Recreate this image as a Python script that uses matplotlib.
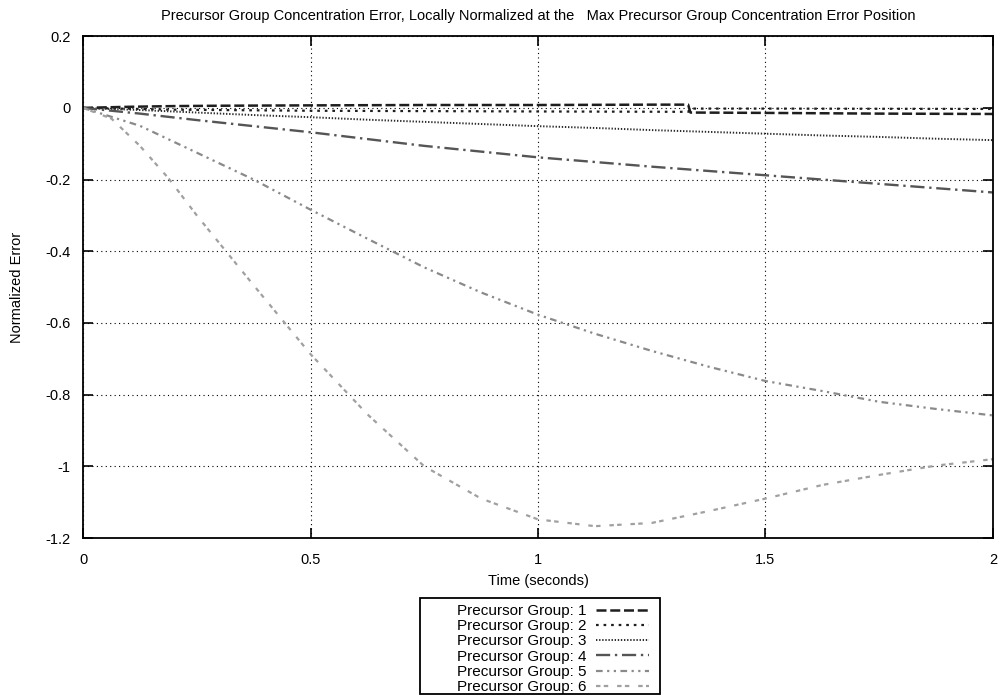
import matplotlib
matplotlib.use("Agg")
import matplotlib.pyplot as plt
from matplotlib.patches import Rectangle

plt.rcParams["font.family"] = ["Liberation Sans", "DejaVu Sans"]

# Time samples (seconds)
t = [0, 0.125, 0.25, 0.375, 0.5, 0.625, 0.75, 0.875, 1.0,
     1.125, 1.25, 1.375, 1.5, 1.625, 1.75, 1.875, 2.0]

# Groups 1 and 2 have a step near t = 1.33 s
t_g1 = [0, 0.1, 0.2, 0.3, 0.5, 0.75, 1.0, 1.25, 1.33, 1.335, 1.5, 1.75, 2.0]
err_g1 = [0, 0.003, 0.005, 0.006, 0.007, 0.008, 0.008, 0.009, 0.009,
          -0.013, -0.014, -0.016, -0.017]
t_g2 = [0, 0.2, 0.5, 1.0, 1.33, 1.335, 1.5, 2.0]
err_g2 = [0, -0.005, -0.008, -0.010, -0.011, -0.002, -0.002, -0.003]

err_g3 = [0, -0.006, -0.013, -0.020, -0.026, -0.033, -0.039, -0.045, -0.051,
          -0.056, -0.062, -0.067, -0.072, -0.077, -0.081, -0.086, -0.090]
err_g4 = [0, -0.016, -0.034, -0.051, -0.068, -0.087, -0.106, -0.122, -0.138,
          -0.151, -0.164, -0.176, -0.188, -0.200, -0.212, -0.224, -0.236]
err_g5 = [0, -0.050, -0.125, -0.200, -0.284, -0.365, -0.445, -0.515, -0.577,
          -0.630, -0.678, -0.722, -0.762, -0.790, -0.820, -0.840, -0.858]

# Group 6 bends sharply early on, so it gets a few extra samples there
t_g6 = [0, 0.0625, 0.125, 0.1875, 0.25, 0.375, 0.5, 0.625, 0.75, 0.875, 1.0,
        1.125, 1.25, 1.375, 1.5, 1.625, 1.75, 1.875, 2.0]
err_g6 = [0, -0.030, -0.106, -0.196, -0.300, -0.495, -0.687, -0.855, -1.000,
          -1.090, -1.148, -1.167, -1.158, -1.125, -1.090, -1.052, -1.024,
          -0.998, -0.980]

x_ticks = [0, 0.5, 1, 1.5, 2]
x_tick_labels = ["0", "0.5", "1", "1.5", "2"]
y_ticks = [0.2, 0, -0.2, -0.4, -0.6, -0.8, -1, -1.2]
y_tick_labels = ["0.2", "0", "-0.2", "-0.4", "-0.6", "-0.8", "-1", "-1.2"]

FS = 10.5

fig = plt.figure(figsize=(10.03, 6.96), dpi=100)
ax = fig.add_axes([0.0828, 0.227, 0.9072, 0.721])

series = [
    (t_g1, err_g1, "#1e1e1e", (0, (4, 1.5)), 1.8),
    (t_g2, err_g2, "#1e1e1e", (0, (1.2, 2.2)), 1.6),
    (t, err_g3, "#2a2a2a", (0, (0.7, 0.9)), 1.4),
    (t, err_g4, "#555555", (0, (6, 2, 1, 2)), 1.7),
    (t, err_g5, "#8a8a8a", (0, (3, 2, 1, 2, 1, 2)), 1.6),
    (t_g6, err_g6, "#a0a0a0", (0, (2, 1.5, 2, 4)), 1.6),
]
for i, (xs, ys, col, ls, lw) in enumerate(series, start=1):
    ax.plot(xs, ys, color=col, linestyle=ls, linewidth=lw,
            label=f"Precursor Group: {i}")

ax.set_xlim(0, 2)
ax.set_ylim(-1.2, 0.2)
ax.set_xticks(x_ticks)
ax.set_xticklabels(x_tick_labels)
ax.set_yticks(y_ticks)
ax.set_yticklabels(y_tick_labels)

ax.grid(True, color="black", linestyle=(0, (1, 3)), linewidth=0.8)
ax.tick_params(direction="in", length=7, width=1.2, top=True, right=True,
               labelsize=FS, colors="black")
ax.tick_params(axis="x", pad=11)
ax.tick_params(axis="y", pad=9)
for sp in ax.spines.values():
    sp.set_linewidth(1.3)

ax.set_xlabel("Time (seconds)", fontsize=FS, labelpad=5)
ax.set_ylabel("Normalized Error", fontsize=FS, labelpad=15)
ax.set_title("Precursor Group Concentration Error, Locally Normalized at the   "
             "Max Precursor Group Concentration Error Position",
             fontsize=FS, pad=12)

# key below the plot: text on the left, line sample on the right
leg = fig.legend(loc="upper left", bbox_to_anchor=(457 / 1003, 1 - 604 / 696),
                 markerfirst=False, fontsize=11, frameon=False,
                 handlelength=3.5, labelspacing=0.08, borderpad=0,
                 handletextpad=0.6, borderaxespad=0)
fig.add_artist(Rectangle((420 / 1003, 1 - 694 / 696), 240 / 1003, 96 / 696,
                         transform=fig.transFigure, fill=False,
                         edgecolor="black", linewidth=1.3))

fig.savefig("out.png", dpi=100)
